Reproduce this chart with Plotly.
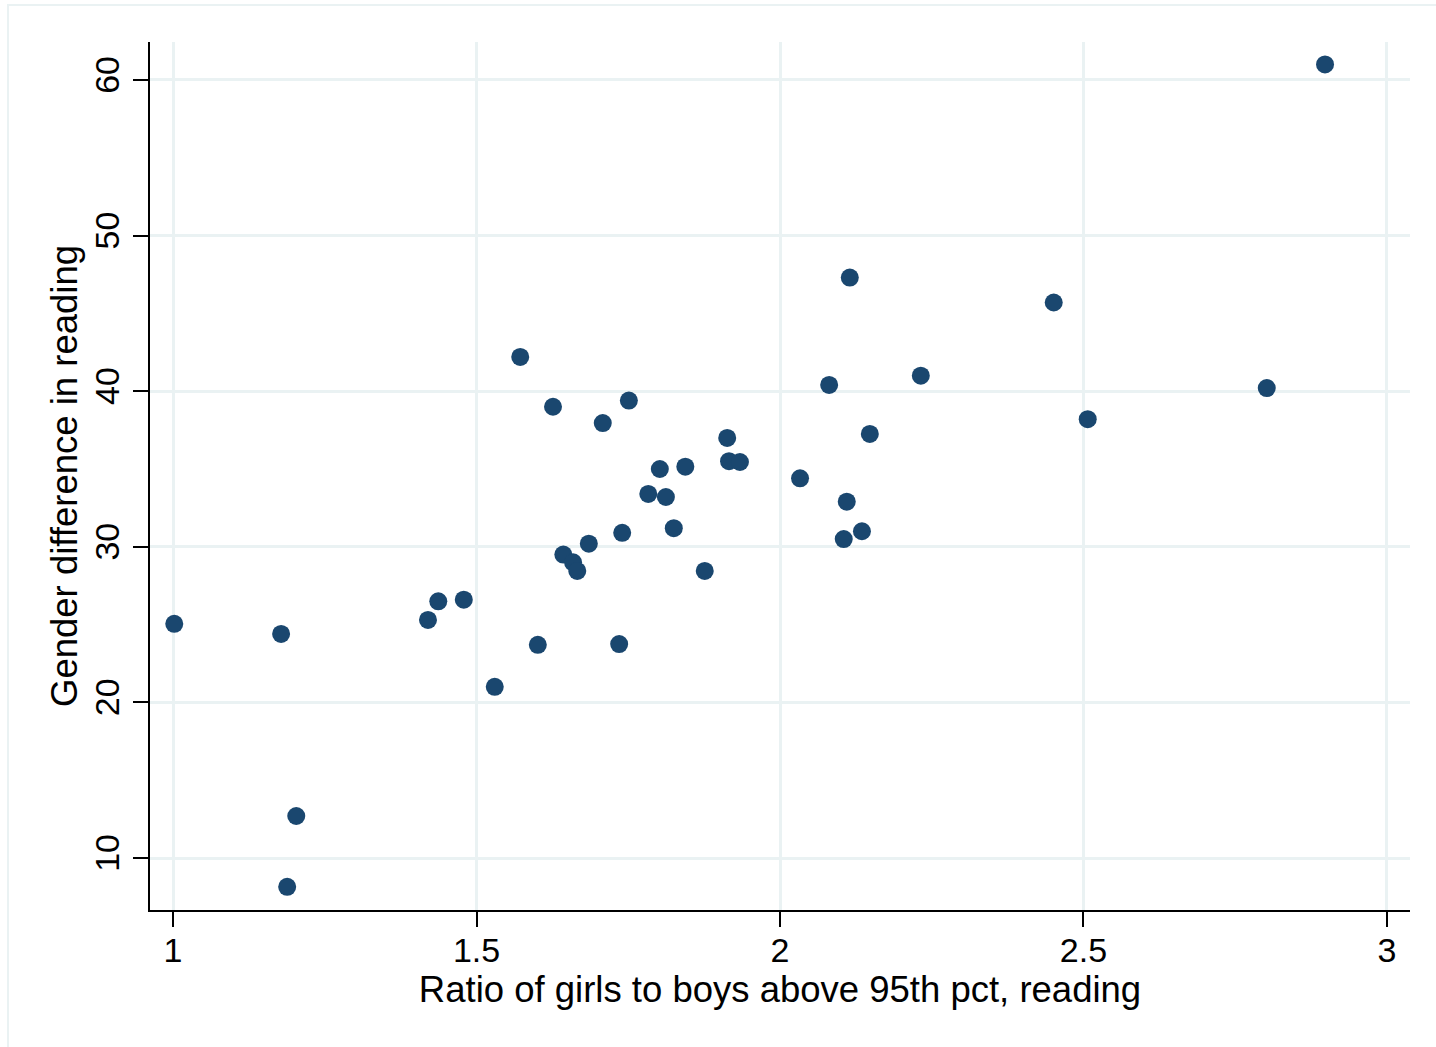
import plotly.graph_objects as go

ratio_girls_boys = [2.898, 2.115, 2.451, 1.572, 2.232, 2.081, 2.802, 1.751, 1.626, 2.507,
                    1.708, 2.148, 1.913, 1.916, 1.934, 2.033, 1.844, 1.802, 1.783, 1.812,
                    2.110, 1.825, 2.135, 1.740, 2.105, 1.685, 1.643, 1.659, 1.666, 1.876,
                    1.002, 1.437, 1.479, 1.420, 1.178, 1.601, 1.735, 1.530, 1.203, 1.188]
gender_diff = [61.0, 47.3, 45.7, 42.2, 41.0, 40.4, 40.2, 39.4, 39.0, 38.2,
               37.95, 37.25, 37.0, 35.5, 35.45, 34.4, 35.15, 35.0, 33.4, 33.2,
               32.9, 31.2, 31.0, 30.9, 30.5, 30.2, 29.5, 29.0, 28.45, 28.45,
               25.05, 26.5, 26.6, 25.3, 24.4, 23.7, 23.75, 21.0, 12.7, 8.15]

x_ticks = [1, 1.5, 2, 2.5, 3]
x_tick_labels = ["1", "1.5", "2", "2.5", "3"]
y_ticks = [10, 20, 30, 40, 50, 60]
y_tick_labels = ["10", "20", "30", "40", "50", "60"]

FONT = "Liberation Sans, Arial, sans-serif"
GRID = "#eaf2f3"

fig = go.Figure()
fig.add_trace(go.Scatter(
    x=ratio_girls_boys, y=gender_diff, mode="markers",
    marker=dict(size=18, color="#1a476f", line=dict(width=0)),
    showlegend=False, hoverinfo="x+y",
))

fig.update_layout(
    width=1436, height=1047,
    margin=dict(l=150, r=26, t=42, b=137, pad=0),
    paper_bgcolor="white", plot_bgcolor="white",
    font=dict(family=FONT, size=34, color="black"),
    xaxis=dict(
        range=[0.962, 3.038], tickvals=x_ticks, ticktext=x_tick_labels,
        showgrid=True, gridcolor=GRID, gridwidth=3, zeroline=False,
        showline=True, linecolor="black", linewidth=2, mirror=False,
        ticks="outside", ticklen=15, tickwidth=2, tickcolor="black",
        ticklabelstandoff=-6, tickfont=dict(size=34),
        title=dict(text="Ratio of girls to boys above 95th pct, reading",
                   font=dict(size=36.5), standoff=2),
    ),
    yaxis=dict(
        range=[6.66, 62.44], tickvals=y_ticks, ticktext=y_tick_labels,
        tickangle=-90,
        showgrid=True, gridcolor=GRID, gridwidth=3, zeroline=False,
        showline=True, linecolor="black", linewidth=2, mirror=False,
        ticks="outside", ticklen=15, tickwidth=2, tickcolor="black",
        ticklabelstandoff=0, tickfont=dict(size=34),
        title=dict(text="Gender difference in reading", font=dict(size=36.5), standoff=0),
    ),
    shapes=[dict(type="rect", xref="paper", yref="paper",
                 x0=-142 / 1260, x1=1.1, y0=-0.3, y1=1 + 37 / 868,
                 line=dict(color=GRID, width=2), fillcolor="rgba(0,0,0,0)", layer="below")],
)

fig.write_html("out.html")
